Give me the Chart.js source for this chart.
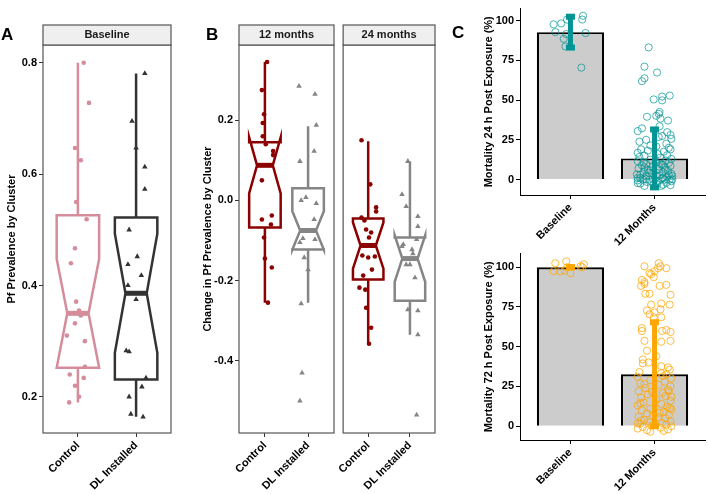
<!DOCTYPE html>
<html>
<head>
<meta charset="utf-8">
<script src="https://cdn.jsdelivr.net/npm/chart.js@4.4.0/dist/chart.umd.min.js"></script>
<style>
  body { margin: 0; background: #fff; width: 708px; height: 494px; position: relative; overflow: hidden; font-family: 'Liberation Sans', Arial, sans-serif; }
  canvas { position: absolute; }
  .tag { position: absolute; font-weight: bold; font-size: 17px; color: #000; line-height: 20px; }
</style>
</head>
<body>
<canvas id="chartA" width="180" height="494" style="left:0;top:0"></canvas>
<canvas id="chartB1" width="142" height="494" style="left:196px;top:0"></canvas>
<canvas id="chartB2" width="100" height="494" style="left:338px;top:0"></canvas>
<canvas id="chartC1" width="268" height="252" style="left:440px;top:0"></canvas>
<canvas id="chartC2" width="268" height="249" style="left:440px;top:245px"></canvas>
<div class="tag" style="left:1px;top:25px">A</div>
<div class="tag" style="left:206px;top:25px">B</div>
<div class="tag" style="left:452px;top:23px">C</div>
<script>
// ---- data ----
const groups = ['Control', 'DL Installed'];
const periods = ['Baseline', '12 Months'];
const ticksA = [0.2, 0.4, 0.6, 0.8];
const ticksB = [-0.4, -0.2, 0.0, 0.2];
const ticksC = [0, 25, 50, 75, 100];

// box stats: [lower whisker, Q1, median, Q3, upper whisker, notch half-width]
const boxA_control = [0.19, 0.252, 0.350, 0.526, 0.80, 0.098];
const boxA_dl = [0.164, 0.231, 0.386, 0.522, 0.781, 0.107];
const boxB12_control = [-0.255, -0.0675, 0.0875, 0.145, 0.345, 0.07];
const boxB12_dl = [-0.255, -0.1225, -0.075, 0.03, 0.185, 0.048];
const boxB24_control = [-0.3575, -0.1975, -0.1125, -0.045, 0.1475, 0.0575];
const boxB24_dl = [-0.335, -0.25, -0.145, -0.0925, 0.0975, 0.058];

// jittered cluster points: [horizontal jitter, value]
const ptsA_control = [[0.10,0.80],[0.19,0.728],[-0.05,0.647],[0.05,0.625],[-0.03,0.55],[0.15,0.519],[-0.05,0.467],[-0.12,0.44],[-0.03,0.371],[0.02,0.355],[0.05,0.346],[-0.05,0.332],[-0.19,0.31],[0.12,0.30],[0.12,0.254],[-0.14,0.24],[0.10,0.234],[-0.05,0.22],[0.02,0.20],[-0.15,0.19],[0.0,0.35]];
const ptsA_dl = [[0.15,0.781],[-0.07,0.695],[0,0.647],[0.15,0.613],[0.15,0.573],[-0.12,0.50],[0.02,0.452],[-0.14,0.438],[0.09,0.418],[-0.14,0.40],[0,0.375],[-0.17,0.283],[-0.12,0.281],[0.17,0.234],[0.10,0.218],[-0.12,0.20],[-0.09,0.169],[0.12,0.164]];
const ptsB12_control = [[0.05,0.345],[-0.07,0.275],[-0.02,0.215],[-0.05,0.193],[-0.05,0.16],[0.02,0.14],[0.19,0.123],[0.19,0.113],[-0.07,0.05],[0.16,-0.0375],[-0.07,-0.0475],[0.14,-0.06],[-0.02,-0.0925],[0,-0.145],[0.16,-0.1675],[0.07,-0.255]];
const ptsB12_dl = [[-0.21,0.285],[0.16,0.265],[0.19,0.1875],[0.14,0.1225],[-0.19,0.0975],[-0.16,0.0],[-0.05,0.0075],[0.19,-0.0075],[0.14,-0.0475],[-0.12,-0.095],[0.16,-0.0975],[-0.19,-0.105],[-0.09,-0.1425],[0,-0.1725],[-0.16,-0.2575],[-0.14,-0.43],[-0.19,-0.50]];
const ptsB24_control = [[-0.16,0.15],[0.05,0.04],[0.19,-0.0175],[0.19,-0.0275],[-0.16,-0.0425],[-0.09,-0.05],[-0.05,-0.0725],[0.07,-0.08],[0.02,-0.0925],[-0.14,-0.1375],[0,-0.1425],[0.16,-0.14],[0.09,-0.1725],[-0.12,-0.1875],[-0.21,-0.2175],[-0.07,-0.2225],[-0.05,-0.2675],[0.07,-0.3175],[0.02,-0.3575]];
const ptsB24_dl = [[-0.05,0.0975],[-0.19,0.015],[-0.09,-0.015],[0.19,-0.04],[0.19,-0.065],[0.16,-0.0975],[-0.19,-0.115],[-0.16,-0.11],[0.05,-0.1225],[0.07,-0.1325],[-0.09,-0.16],[0,-0.16],[0.12,-0.1925],[-0.05,-0.2725],[0.19,-0.275],[0.19,-0.335],[0.16,-0.535]];

// mosquito mortality: bar = mean, error = sd
const mort24_mean = [92.7, 13.3];
const mort24_sd = [9.7, 18.2];
const mort72_mean = [100, 32.7];
const mort72_sd = [0, 32.7];

const m24_baseline = [[-0.20,97.6],[-0.11,98.2],[0.15,103],[0.14,100.6],[-0.18,92.7],[-0.08,88.5],[-0.05,91.5],[-0.06,83.7],[0.18,92.1],[0.13,70.4],[-0.04,100.6]];
const m24_12m = [[-0.07,83.1],[-0.12,71.0],[0.03,67.3],[-0.12,63.7],[-0.15,61.9],[-0.01,50.4],[0.09,52.2],[0.18,52.8],[0.09,49.8],[-0.09,39.5],[0.06,42.5],[0.05,41.3],[0.02,40.1],[0.07,38.3],[0.16,37.1],[-0.15,32.2],[0.06,33.5],
  [-0.2,30.5],[0.15,29.8],[0.19,28],[0.09,27.4],[0.05,26.8],[0.2,25.6],[-0.1,25],[-0.18,23.8],[0.14,22.6],[-0.05,21.5],[0.02,20.8],[0.17,20],[-0.16,19],[0.19,19],[-0.08,18.2],[0.11,17.5],[-0.2,16.8],[0.04,16],[0.15,15.3],[-0.12,15],
  [-0.18,14.2],[0.07,13.8],[0.2,13],[-0.05,12.5],[0.13,12],[-0.2,11.6],[0.02,11],[0.17,10.5],[-0.1,10],[0.08,9.5],[-0.15,9],[0.19,8.6],[-0.02,8],[0.12,7.5],[-0.19,7],[0.04,6.6],[-0.08,6],[0.16,5.5],[-0.13,5],[0.1,4.6],[-0.03,4],[0.2,3.6],[-0.17,3],[0.06,2.5],[-0.1,2],[0.15,1.6],[-0.2,1],[0.09,0.6],[-0.06,0],[0.18,0],[0,0],[-0.14,0],[0.12,0],[-0.2,-0.5],[0.05,-0.8],[0.2,-1],[-0.09,-1.5],[0.14,-2],[-0.17,-2.5],[0.03,-3],[0.19,-3.5],[-0.12,-4],[0.08,-4],[0.21,2.2],[-0.21,3.2],[-0.05,5.8],[0.05,8.3],[-0.13,10.8],[0.1,1.2],[-0.1,0.3],[-0.17,0.8],[0.03,1.8],[0.17,2.8],[-0.07,4.3],[0.13,6.2],[-0.12,7.8],[0.1,9.2],[0.21,0.2],[-0.04,-1.2],[-0.2,-2.2],[0.1,-3.2]];

const m72_baseline = [[-0.18,102.5],[-0.05,103.7],[-0.2,97.5],[-0.12,97.5],[-0.07,98],[0,96.3],[0.12,100.6],[0.16,101.9],[0.14,100],[-0.04,100]];
const m72_12m = [[0.05,102.5],[0.07,100.6],[0.04,99.4],[0.14,99.4],[-0.12,100.6],[0,97.5],[-0.04,95.7],[-0.06,96.3],[-0.01,93.8],[-0.15,92],[-0.12,90.7],[-0.16,88.3],[-0.12,89.5],[0.06,88.3],[0.14,88.9],[-0.11,83.3],[-0.06,83.3],[0.19,82.7],[-0.04,76.5],[0.08,77.2],[0.18,76.5],[-0.09,72.8],[-0.06,70.4],[0,71.6],[0.07,73.5],[-0.01,68.5],[0.08,68.5],[-0.15,61.7],[-0.15,59.9],[0.09,59.9],[0.14,60.5],[0.19,59.3],[-0.12,53.7],[0.08,53.1],[0.19,53.7],
  [-0.09,47.5],[0.02,44],[-0.14,42],[-0.14,39.5],[-0.07,40.1],[0.08,37.7],[0.16,37],[-0.18,34],[0.08,33.3],[0.14,32.7],[-0.2,31],[0.2,30],[-0.05,29],[0.12,28],[-0.17,27],[0.05,26],[0.19,25],[-0.11,24],[0.16,23],[-0.19,22],[0.17,22],[0.1,21],[-0.08,20],[0.13,19],[-0.16,18],[0.02,17],[0.19,16],[-0.13,15],[0.08,14],[-0.2,13],[0.15,12],[-0.05,11],[0.2,10.5],[-0.15,10],[0.11,9],[-0.09,8],[0.17,7],[-0.19,6],[0.04,5.5],[0.13,5],[-0.12,4],[0.19,3],[-0.06,2.5],[0.09,2],[-0.17,1.5],[0.14,1],[-0.03,0.5],[0.2,0],[-0.14,-0.5],[0.07,-1],[-0.2,-1.5],[0.16,-2],[-0.09,-2.5],[0.11,-3],[-0.05,-3.5],[-0.2,1.8],[0.06,8.5],[-0.17,14.5],[0.2,18.5],[-0.12,26.5],[0.1,31.5],[0.18,35.5],[0.18,11.5],[-0.02,6.5],[-0.16,3.5],[-0.03,21.5]];

// ---- drawing ----
Chart.defaults.font.family = "'Liberation Sans', Arial, sans-serif";
Chart.defaults.font.size = 11;
Chart.defaults.font.weight = 'bold';
Chart.defaults.color = '#000';
Chart.defaults.animation = false;
Chart.defaults.plugins.legend.display = false;
Chart.defaults.plugins.tooltip.enabled = false;

const jitter = (pos, pts) => pts.map(([dx, v]) => ({ x: pos + dx, y: v }));

// notched boxplots, drawn under the jittered points
Chart.register({
  id: 'boxes',
  beforeDatasetsDraw(chart, args, opts) {
    if (!opts.items) return;
    const { ctx } = chart;
    const x = chart.scales.x, y = chart.scales.y;
    const py = v => y.getPixelForValue(v);
    opts.items.forEach(b => {
      const [lo, q1, med, q3, hi, nh] = b.stats;
      const l = x.getPixelForValue(b.pos - opts.width / 2);
      const r = x.getPixelForValue(b.pos + opts.width / 2);
      const c = x.getPixelForValue(b.pos);
      const k = (r - l) / 4;
      ctx.save();
      ctx.strokeStyle = b.color;
      ctx.lineWidth = opts.lineWidth;
      ctx.beginPath();
      ctx.moveTo(c, py(hi)); ctx.lineTo(c, py(q3));
      ctx.moveTo(c, py(q1)); ctx.lineTo(c, py(lo));
      ctx.stroke();
      const outline = [[l, q3], [r, q3], [r, med + nh], [r - k, med], [r, med - nh], [r, q1],
                       [l, q1], [l, med - nh], [l + k, med], [l, med + nh]];
      ctx.beginPath();
      outline.forEach(([px, v], i) => i ? ctx.lineTo(px, py(v)) : ctx.moveTo(px, py(v)));
      ctx.closePath();
      ctx.fillStyle = '#fff';
      ctx.fill();
      ctx.stroke();
      ctx.lineWidth = opts.lineWidth * 2;
      ctx.beginPath();
      ctx.moveTo(l + k, py(med)); ctx.lineTo(r - k, py(med));
      ctx.stroke();
      ctx.restore();
    });
  }
});

// panel border + facet strip
Chart.register({
  id: 'frame',
  afterDraw(chart, args, opts) {
    if (!opts.strip) return;
    const { ctx, chartArea: a } = chart;
    ctx.save();
    ctx.strokeStyle = '#555';
    ctx.lineWidth = 1.2;
    ctx.strokeRect(a.left, a.top, a.right - a.left, a.bottom - a.top);
    ctx.fillStyle = '#efefef';
    ctx.fillRect(a.left, a.top - 20, a.right - a.left, 20);
    ctx.strokeRect(a.left, a.top - 20, a.right - a.left, 20);
    ctx.fillStyle = '#1a1a1a';
    ctx.font = "bold 11px 'Liberation Sans', Arial, sans-serif";
    ctx.textAlign = 'center';
    ctx.textBaseline = 'middle';
    ctx.fillText(opts.strip, (a.left + a.right) / 2, a.top - 10);
    ctx.restore();
  }
});

// mean +/- sd bars
Chart.register({
  id: 'errbars',
  afterDatasetsDraw(chart, args, opts) {
    if (!opts.mean) return;
    const { ctx } = chart;
    const x = chart.scales.x, y = chart.scales.y;
    ctx.save();
    ctx.fillStyle = opts.color;
    opts.mean.forEach((m, i) => {
      const cx = x.getPixelForValue(i + 1);
      const top = y.getPixelForValue(m + opts.sd[i]);
      const bot = y.getPixelForValue(m - opts.sd[i]);
      ctx.fillRect(cx - 2.5, top, 5, bot - top);
      ctx.fillRect(cx - 4.5, top - 3, 9, 6);
      ctx.fillRect(cx - 4.5, bot - 3, 9, 6);
    });
    ctx.restore();
  }
});

function xAxis(labels, height, tickColor) {
  return {
    type: 'linear', min: 0.4, max: 2.6, offset: false,
    afterBuildTicks: s => { s.ticks = labels.map((_, i) => ({ value: i + 1 })); },
    afterFit: s => { s.height = height; },
    ticks: { callback: v => labels[v - 1], minRotation: 45, maxRotation: 45, autoSkip: false, padding: 2, color: '#000' },
    grid: { drawOnChartArea: false, offset: false, tickLength: 4, color: tickColor },
    border: { display: tickColor === '#000', color: '#000', width: 1 }
  };
}

function yAxis(min, max, ticks, title, fmt, tickColor, show) {
  return {
    display: show, min: min, max: max,
    afterBuildTicks: s => { s.ticks = ticks.map(v => ({ value: v })); },
    afterFit: s => { s.width = show ? 43 : 0; },
    ticks: { callback: fmt, padding: 2, color: '#000' },
    grid: { drawOnChartArea: false, tickLength: 4, color: tickColor },
    border: { display: tickColor === '#000', color: '#000', width: 1 },
    title: { display: true, text: title, color: '#000', font: { size: 11, weight: 'bold' }, padding: { top: 5, bottom: 2 } }
  };
}

function boxPanel(id, pad, strip, sets, showY) {
  const colors = sets.map(s => s.color);
  new Chart(document.getElementById(id), {
    type: 'scatter',
    data: {
      datasets: sets.map((s, i) => ({
        data: jitter(i + 1, s.pts),
        pointStyle: i === 0 ? 'circle' : 'triangle',
        radius: i === 0 ? 2.3 : 3.2,
        backgroundColor: s.color,
        borderColor: s.color,
        borderWidth: 0
      }))
    },
    options: {
      responsive: false,
      layout: { autoPadding: false, padding: pad },
      scales: {
        x: xAxis(groups, 61, '#333'),
        y: yAxis(sets[0].range[0], sets[0].range[1], sets[0].ticks, sets[0].title, v => v.toFixed(1), '#333', showY)
      },
      plugins: {
        frame: { strip: strip },
        boxes: { width: 0.73, lineWidth: 2.5, items: sets.map((s, i) => ({ pos: i + 1, stats: s.box, color: colors[i] })) }
      }
    }
  });
}

const rangeA = [0.135, 0.832];
const rangeB = [-0.58, 0.3875];
const titleA = 'Pf Prevalence by Cluster';
const titleB = 'Change in Pf Prevalence by Cluster';

boxPanel('chartA', { top: 45, right: 9, left: 0, bottom: 0 }, 'Baseline', [
  { pts: ptsA_control, box: boxA_control, color: '#d58d9b', range: rangeA, ticks: ticksA, title: titleA },
  { pts: ptsA_dl, box: boxA_dl, color: '#333333' }
], true);
boxPanel('chartB1', { top: 45, right: 4, left: 0, bottom: 0 }, '12 months', [
  { pts: ptsB12_control, box: boxB12_control, color: '#8b0000', range: rangeB, ticks: ticksB, title: titleB },
  { pts: ptsB12_dl, box: boxB12_dl, color: '#858585' }
], true);
boxPanel('chartB2', { top: 45, right: 3, left: 2, bottom: 0 }, '24 months', [
  { pts: ptsB24_control, box: boxB24_control, color: '#8b0000', range: rangeB, ticks: ticksB, title: titleB },
  { pts: ptsB24_dl, box: boxB24_dl, color: '#858585' }
], false);

function mortPanel(id, pad, xh, range, title, mean, sd, base, later, color, fade) {
  new Chart(document.getElementById(id), {
    type: 'bar',
    data: {
      datasets: [
        {
          type: 'scatter', order: 1,
          data: jitter(1, base).concat(jitter(2, later)),
          pointStyle: 'circle', radius: 3.6, borderWidth: 1,
          borderColor: fade, backgroundColor: 'rgba(0,0,0,0)'
        },
        {
          type: 'bar', order: 2,
          data: mean.map((m, i) => ({ x: i + 1, y: m })),
          backgroundColor: '#cccccc', borderColor: '#000', borderWidth: 2.2,
          categoryPercentage: 1, barPercentage: 0.8
        }
      ]
    },
    options: {
      responsive: false,
      layout: { autoPadding: false, padding: pad },
      scales: {
        x: xAxis(periods, xh, '#000'),
        y: yAxis(range[0], range[1], ticksC, title, v => String(v), '#000', true)
      },
      plugins: { errbars: { mean: mean, sd: sd, color: color } }
    }
  });
}

mortPanel('chartC1', { left: 37, top: 2, right: 3, bottom: 0 }, 57, [-9.7, 107.5],
  'Mortality 24 h Post Exposure (%)', mort24_mean, mort24_sd, m24_baseline, m24_12m, '#009494', 'rgba(0,148,148,0.7)');
mortPanel('chartC2', { left: 37, top: 5, right: 3, bottom: 0 }, 54, [-8.7, 108.6],
  'Mortality 72 h Post Exposure (%)', mort72_mean, mort72_sd, m72_baseline, m72_12m, '#ffa500', 'rgba(255,165,0,0.75)');
</script>
</body>
</html>
